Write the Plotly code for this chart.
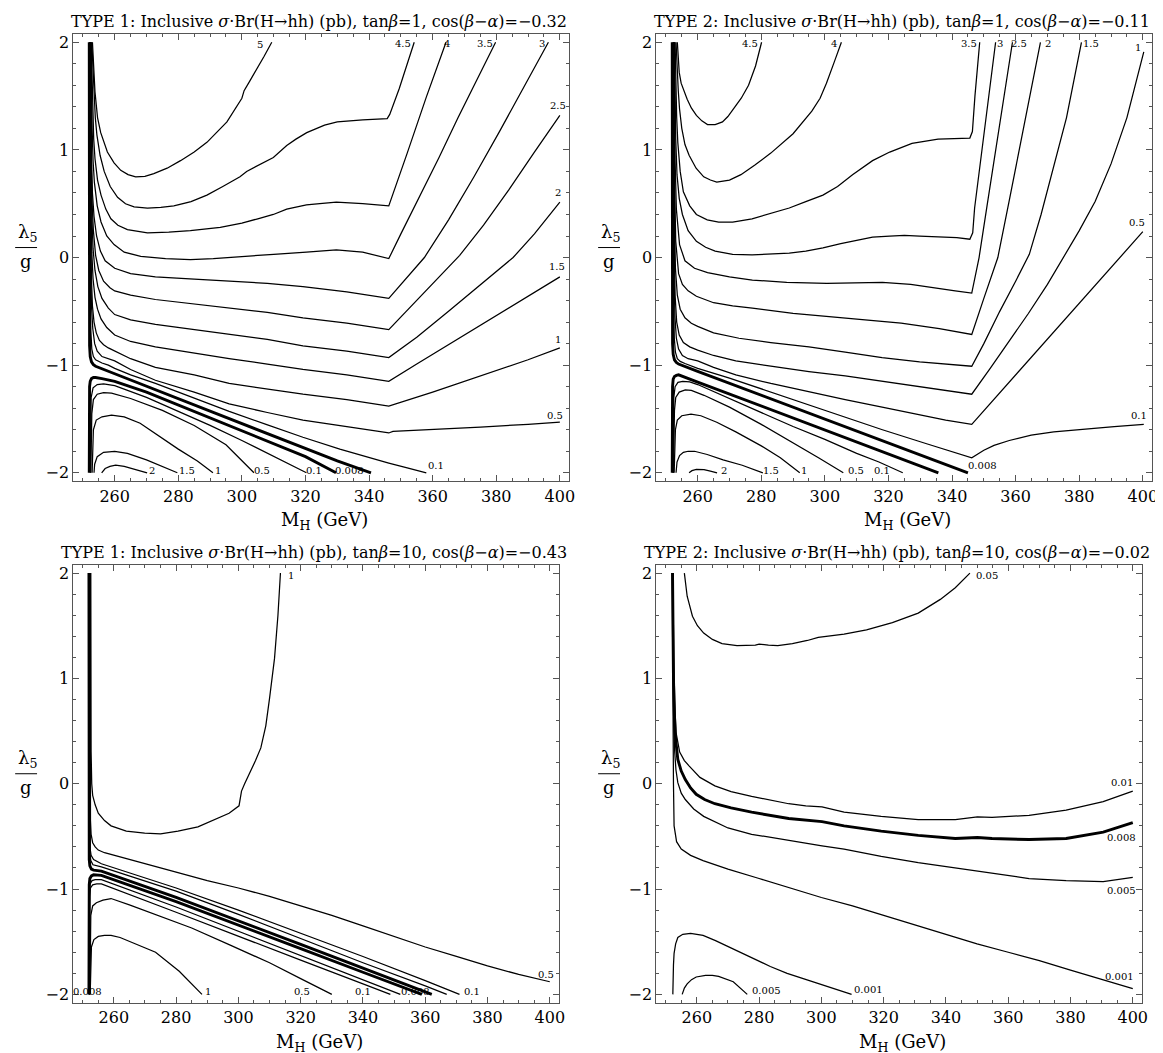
import plotly.graph_objects as go

W, H = 1163, 1053
FONT = "DejaVu Serif"
FRAME = "#555555"

# ---------------- Panel 1: TYPE 1, tanb=1, cos=-0.32 ----------------
P1_5 = ([253.0, 253.4, 253.8, 254.6, 255.6, 257.7, 259.8, 261.9, 264.2, 266.6, 269.5, 272.3, 276.5, 280.7, 285.0, 289.0, 295.3, 300.0, 300.7, 302.7, 304.7, 307.0, 309.4],
        [2.0, 1.8, 1.54, 1.3, 1.16, 0.98, 0.88, 0.81, 0.77, 0.75, 0.755, 0.78, 0.83, 0.90, 0.98, 1.07, 1.26, 1.48, 1.55, 1.65, 1.75, 1.87, 2.0])
P1_45 = ([252.8, 253.1, 253.4, 253.9, 254.4, 255.4, 256.7, 258.6, 260.9, 263.4, 266.1, 270.3, 274.5, 278.6, 284.0, 289.0, 294.0, 299.4, 301.5, 305.5, 309.9, 314.1, 317.0, 320.4, 326.0, 330.0, 338.0, 345.7, 346.5, 349.5, 352.0, 354.2],
         [2.0, 1.8, 1.54, 1.3, 1.14, 0.95, 0.80, 0.66, 0.56, 0.5, 0.47, 0.46, 0.465, 0.48, 0.52, 0.58, 0.66, 0.75, 0.80, 0.86, 0.93, 1.04, 1.1, 1.16, 1.23, 1.26, 1.28, 1.29, 1.33, 1.57, 1.8, 2.0])
P1_4 = ([252.6, 252.8, 253.0, 253.4, 253.8, 254.6, 255.7, 257.2, 258.8, 261.0, 264.0, 270.3, 277.0, 283.8, 293.2, 300.0, 305.0, 309.9, 314.1, 320.3, 324.5, 329.7, 338.0, 346.2, 352.0, 358.0, 364.2],
        [2.0, 1.7, 1.38, 1.1, 0.92, 0.72, 0.58, 0.45, 0.36, 0.3, 0.26, 0.23, 0.235, 0.25, 0.28, 0.32, 0.36, 0.40, 0.45, 0.49, 0.50, 0.515, 0.50, 0.48, 0.97, 1.49, 2.0])
P1_35 = ([252.5, 252.7, 252.9, 253.2, 253.6, 254.5, 255.7, 257.5, 259.8, 263.0, 268.2, 276.0, 283.8, 291.0, 299.4, 310.0, 320.3, 329.7, 338.0, 346.2, 350.0, 356.0, 362.0, 368.0, 374.0, 379.8],
         [2.0, 1.5, 1.2, 0.9, 0.7, 0.48, 0.33, 0.2, 0.12, 0.05, 0.01, -0.01, -0.02, -0.01, 0.01, 0.03, 0.05, 0.07, 0.05, -0.01, 0.22, 0.57, 0.93, 1.3, 1.66, 2.0])
P1_3 = ([252.45, 252.55, 252.7, 253.0, 253.5, 254.3, 255.5, 257.0, 260.0, 265.0, 272.8, 285.0, 296.0, 308.0, 319.2, 333.0, 346.2, 351.0, 357.4, 365.0, 373.0, 381.0, 389.0, 396.4],
        [2.0, 1.4, 0.95, 0.6, 0.38, 0.2, 0.06, -0.03, -0.1, -0.15, -0.18, -0.2, -0.22, -0.24, -0.27, -0.32, -0.38, -0.22, 0.0, 0.35, 0.75, 1.17, 1.6, 2.0])
P1_25 = ([252.4, 252.5, 252.65, 252.9, 253.3, 254.0, 255.0, 256.5, 258.5, 260.0, 265.0, 272.8, 285.0, 296.0, 308.0, 319.2, 333.0, 346.2, 352.0, 358.0, 364.0, 368.5, 376.0, 384.0, 392.0, 400.0],
         [2.0, 1.3, 0.85, 0.5, 0.25, 0.02, -0.12, -0.22, -0.28, -0.31, -0.35, -0.39, -0.43, -0.47, -0.51, -0.56, -0.61, -0.67, -0.49, -0.3, -0.11, 0.02, 0.3, 0.63, 0.98, 1.32])
P1_2 = ([252.35, 252.45, 252.6, 252.85, 253.2, 253.8, 254.7, 256.0, 258.0, 260.0, 265.0, 272.8, 285.0, 296.0, 308.0, 319.2, 333.0, 346.2, 355.0, 365.0, 375.0, 385.3, 392.0, 400.0],
        [2.0, 1.2, 0.7, 0.35, 0.08, -0.12, -0.27, -0.38, -0.47, -0.53, -0.58, -0.62, -0.67, -0.71, -0.76, -0.82, -0.87, -0.93, -0.74, -0.5, -0.25, 0.0, 0.22, 0.515])
P1_15 = ([252.3, 252.4, 252.55, 252.8, 253.2, 253.8, 254.6, 255.7, 257.5, 260.0, 265.0, 272.8, 285.0, 296.0, 308.0, 319.2, 333.0, 346.2, 355.0, 365.0, 375.0, 385.0, 392.0, 400.0],
         [2.0, 1.0, 0.45, 0.05, -0.2, -0.37, -0.48, -0.57, -0.65, -0.72, -0.78, -0.83, -0.89, -0.94, -0.99, -1.04, -1.09, -1.15, -0.99, -0.81, -0.63, -0.45, -0.32, -0.18])
P1_1 = ([252.25, 252.35, 252.5, 252.7, 253.0, 253.5, 254.2, 255.2, 256.5, 258.0, 260.0, 265.0, 272.8, 285.0, 296.0, 308.0, 319.2, 333.0, 346.2, 360.0, 375.0, 390.0, 400.0],
        [2.0, 0.8, 0.2, -0.2, -0.45, -0.6, -0.7, -0.77, -0.81, -0.84, -0.87, -0.94, -1.02, -1.09, -1.17, -1.22, -1.27, -1.32, -1.38, -1.25, -1.1, -0.95, -0.84])
P1_05 = ([252.2, 252.3, 252.45, 252.7, 253.1, 253.7, 254.5, 256.0, 258.0, 260.0, 265.0, 272.8, 285.0, 296.0, 308.0, 319.2, 333.0, 346.2, 347.5, 360.0, 375.0, 390.0, 400.0],
         [2.0, 0.5, -0.1, -0.45, -0.66, -0.8, -0.87, -0.92, -0.94, -0.96, -1.04, -1.14, -1.25, -1.36, -1.44, -1.51, -1.57, -1.63, -1.615, -1.6, -1.575, -1.55, -1.53])
P1_01 = ([252.15, 252.2, 252.3, 252.5, 252.8, 253.3, 254.0, 256.0, 258.0, 260.0, 265.0, 272.8, 284.4, 296.0, 307.6, 319.2, 330.8, 340.0, 346.2, 352.0, 358.0],
         [2.0, 0.5, -0.3, -0.68, -0.85, -0.92, -0.95, -0.98, -1.0, -1.03, -1.09, -1.17, -1.3, -1.43, -1.55, -1.67, -1.78, -1.86, -1.91, -1.955, -2.0])
P1_T_UP = ([252.0, 252.0, 252.1, 252.3, 252.7, 253.3, 254.0, 260.0, 270.0, 280.0, 290.0, 296.0, 300.0, 310.0, 320.0, 330.0, 340.6],
           [2.0, -0.6, -0.82, -0.92, -0.97, -0.995, -1.01, -1.08, -1.195, -1.31, -1.425, -1.495, -1.54, -1.66, -1.775, -1.89, -2.0])
P1_T_LO = ([252.0, 252.0, 252.1, 252.3, 252.7, 253.3, 254.0, 256.0, 260.0, 270.0, 280.0, 290.0, 300.0, 310.0, 320.0, 329.6],
           [-2.0, -1.35, -1.2, -1.15, -1.125, -1.115, -1.115, -1.125, -1.15, -1.25, -1.37, -1.49, -1.61, -1.73, -1.85, -2.0])
P1_A01 = ([252.3, 252.4, 252.6, 253.2, 254.5, 256.5, 260.0, 270.0, 280.0, 290.0, 300.0, 310.0, 320.3],
          [-2.0, -1.5, -1.3, -1.21, -1.18, -1.175, -1.19, -1.3, -1.43, -1.56, -1.70, -1.85, -2.0])
P1_A05 = ([252.5, 252.6, 252.8, 253.3, 254.5, 256.5, 259.0, 265.0, 275.0, 285.0, 295.0, 303.8],
          [-2.0, -1.7, -1.45, -1.32, -1.27, -1.255, -1.26, -1.31, -1.42, -1.56, -1.74, -2.0])
P1_A1 = ([252.9, 253.0, 253.3, 254.2, 256.0, 259.0, 263.0, 268.0, 272.8, 280.0, 286.0, 290.9],
         [-2.0, -1.8, -1.6, -1.51, -1.48, -1.465, -1.48, -1.54, -1.635, -1.78, -1.89, -2.0])
P1_A15 = ([253.5, 253.7, 254.5, 256.5, 260.0, 264.0, 270.0, 275.0, 279.7],
          [-2.0, -1.92, -1.85, -1.81, -1.80, -1.82, -1.88, -1.94, -2.0])
P1_A2 = ([255.9, 257.0, 258.5, 260.3, 263.0, 267.0, 270.2],
         [-2.0, -1.96, -1.94, -1.93, -1.94, -1.97, -2.0])
P1_LABELS = [("5", 305.7, 1.98), ("4.5", 350.6, 1.99), ("4", 364.6, 1.99), ("3.5", 376.4, 1.99),
             ("3", 394.4, 1.99), ("2.5", 399.3, 1.41), ("2", 399.5, 0.6), ("1.5", 399.0, -0.08),
             ("1", 399.5, -0.76), ("0.5", 398.5, -1.47), ("0.1", 361.0, -1.93),
             ("2", 271.8, -1.975), ("1.5", 282.6, -1.975), ("1", 292.4, -1.975), ("0.5", 306.4, -1.975),
             ("0.1", 322.6, -1.975), ("0.008", 333.7, -1.975)]

# ---------------- Panel 2: TYPE 2, tanb=1, cos=-0.11 ----------------
P2_45 = ([253.6, 253.8, 254.2, 254.8, 255.7, 256.7, 258.0, 259.6, 261.3, 263.1, 265.5, 267.8, 269.5, 271.3, 273.7, 276.0, 278.2, 280.1],
         [2.0, 1.85, 1.72, 1.62, 1.54, 1.47, 1.39, 1.32, 1.27, 1.235, 1.235, 1.26, 1.31, 1.38, 1.48, 1.6, 1.78, 2.0])
P2_4 = ([253.2, 253.5, 253.9, 254.3, 255.0, 256.0, 257.3, 259.5, 261.9, 264.0, 266.0, 270.0, 273.6, 278.0, 283.0, 290.0, 295.9, 298.5, 300.5, 303.0, 305.2],
        [2.0, 1.75, 1.55, 1.38, 1.2, 1.05, 0.95, 0.83, 0.75, 0.72, 0.70, 0.72, 0.77, 0.86, 0.97, 1.15, 1.36, 1.48, 1.62, 1.82, 2.0])
P2_35 = ([252.9, 253.1, 253.4, 253.75, 254.5, 255.5, 257.5, 259.6, 263.0, 266.6, 271.0, 277.1, 283.0, 288.8, 294.0, 299.4, 304.0, 308.7, 315.0, 320.4, 327.4, 335.6, 345.6, 346.4, 347.2, 348.0, 348.7],
         [2.0, 1.65, 1.3, 1.07, 0.8, 0.61, 0.48, 0.40, 0.35, 0.33, 0.33, 0.36, 0.41, 0.46, 0.52, 0.58, 0.66, 0.77, 0.9, 0.98, 1.06, 1.1, 1.11, 1.17, 1.5, 1.75, 2.0])
P2_3 = ([252.7, 252.85, 253.1, 253.5, 254.2, 255.2, 257.0, 259.6, 262.5, 265.5, 271.0, 277.1, 283.0, 288.8, 294.0, 299.4, 305.0, 309.9, 315.0, 320.4, 325.0, 329.8, 336.0, 341.5, 345.6, 346.5, 347.1, 349.7, 352.0, 353.7],
        [2.0, 1.55, 1.1, 0.77, 0.55, 0.40, 0.25, 0.15, 0.095, 0.06, 0.03, 0.025, 0.03, 0.04, 0.06, 0.09, 0.13, 0.16, 0.19, 0.2, 0.205, 0.2, 0.19, 0.185, 0.17, 0.23, 0.46, 1.07, 1.6, 2.0])
P2_25 = ([252.6, 252.7, 252.9, 253.3, 254.3, 256.0, 259.0, 263.1, 270.0, 277.2, 288.0, 300.6, 310.0, 318.1, 327.0, 335.7, 341.0, 346.2, 348.5, 351.0, 355.0, 359.0],
         [2.0, 1.4, 0.9, 0.45, 0.12, -0.03, -0.1, -0.14, -0.18, -0.21, -0.23, -0.24, -0.235, -0.23, -0.25, -0.29, -0.31, -0.33, 0.0, 0.48, 1.24, 2.0])
P2_2 = ([252.5, 252.6, 252.75, 253.1, 254.0, 255.2, 257.0, 259.6, 265.0, 271.0, 277.2, 290.0, 300.6, 312.0, 324.0, 336.0, 346.2, 350.0, 354.4, 358.0, 363.0, 367.8],
        [2.0, 1.2, 0.7, 0.15, -0.15, -0.25, -0.31, -0.36, -0.42, -0.45, -0.47, -0.52, -0.55, -0.58, -0.61, -0.66, -0.715, -0.38, 0.0, 0.53, 1.28, 2.0])
P2_15 = ([252.45, 252.55, 252.7, 253.0, 253.6, 254.5, 256.0, 258.0, 260.0, 265.0, 273.0, 283.0, 295.0, 306.4, 318.0, 329.8, 338.0, 346.2, 350.0, 355.0, 360.0, 364.3, 368.0, 372.0, 376.0, 380.7],
         [2.0, 1.0, 0.4, -0.1, -0.35, -0.48, -0.56, -0.61, -0.64, -0.7, -0.75, -0.79, -0.83, -0.88, -0.93, -0.97, -0.99, -1.01, -0.8, -0.5, -0.22, 0.03, 0.4, 0.85, 1.3, 2.0])
P2_1 = ([252.4, 252.5, 252.65, 252.9, 253.4, 254.2, 255.5, 257.5, 260.0, 265.0, 272.0, 283.0, 295.0, 306.4, 318.0, 329.8, 338.0, 346.2, 352.0, 358.0, 364.0, 370.0, 375.0, 380.0, 385.0, 390.0, 395.0, 400.3],
        [2.0, 0.8, 0.1, -0.35, -0.6, -0.72, -0.79, -0.83, -0.86, -0.91, -0.96, -1.01, -1.06, -1.1, -1.15, -1.2, -1.24, -1.27, -1.03, -0.78, -0.52, -0.25, 0.0, 0.25, 0.52, 0.87, 1.3, 1.91])
P2_05 = ([252.35, 252.45, 252.6, 252.85, 253.3, 254.0, 255.2, 257.0, 260.0, 265.0, 272.0, 283.0, 295.0, 306.4, 318.0, 329.8, 338.0, 346.2, 360.0, 375.0, 391.8, 400.0],
         [2.0, 0.6, -0.2, -0.55, -0.75, -0.85, -0.91, -0.94, -0.96, -1.02, -1.09, -1.17, -1.25, -1.32, -1.39, -1.46, -1.51, -1.55, -1.09, -0.59, -0.03, 0.24])
P2_01 = ([252.3, 252.35, 252.45, 252.65, 253.0, 253.6, 254.5, 256.0, 260.0, 270.0, 280.0, 294.7, 306.0, 318.1, 332.0, 346.2, 350.0, 353.2, 358.0, 364.9, 372.0, 382.4, 391.0, 400.3],
         [2.0, 0.5, -0.4, -0.75, -0.88, -0.94, -0.965, -0.985, -1.03, -1.12, -1.22, -1.37, -1.48, -1.6, -1.73, -1.86, -1.79, -1.745, -1.70, -1.65, -1.62, -1.59, -1.57, -1.55])
P2_T_UP = ([252.0, 252.0, 252.1, 252.3, 252.7, 253.3, 254.0, 260.0, 270.0, 280.0, 290.0, 300.0, 310.0, 320.0, 330.0, 345.0],
           [2.0, -0.55, -0.8, -0.9, -0.95, -0.975, -0.99, -1.057, -1.168, -1.279, -1.39, -1.5, -1.61, -1.72, -1.83, -2.0])
P2_T_LO = ([252.0, 252.0, 252.1, 252.3, 252.7, 253.3, 254.0, 260.0, 270.0, 280.0, 290.0, 300.0, 310.0, 320.0, 335.7],
           [-2.0, -1.4, -1.2, -1.13, -1.105, -1.095, -1.09, -1.157, -1.268, -1.379, -1.49, -1.6, -1.71, -1.82, -2.0])
P2_A01 = ([252.2, 252.3, 252.5, 252.9, 253.8, 255.3, 257.5, 260.0, 270.0, 280.0, 290.0, 300.0, 310.0, 317.0, 324.5],
          [-2.0, -1.55, -1.3, -1.2, -1.16, -1.15, -1.155, -1.18, -1.31, -1.44, -1.57, -1.69, -1.82, -1.9, -2.0])
P2_A05 = ([252.4, 252.5, 252.7, 253.1, 254.2, 256.1, 258.0, 262.0, 270.0, 280.0, 290.0, 298.0, 305.8],
          [-2.0, -1.65, -1.42, -1.3, -1.25, -1.23, -1.235, -1.28, -1.39, -1.55, -1.72, -1.86, -2.0])
P2_A1 = ([252.6, 252.75, 253.0, 253.6, 255.0, 257.9, 261.0, 266.0, 272.0, 280.0, 286.0, 292.1],
         [-2.0, -1.75, -1.6, -1.51, -1.47, -1.455, -1.47, -1.53, -1.62, -1.75, -1.86, -2.0])
P2_A15 = ([253.2, 253.5, 254.3, 255.5, 257.0, 259.0, 263.0, 268.0, 274.0, 280.5],
          [-2.0, -1.9, -1.84, -1.81, -1.80, -1.80, -1.83, -1.88, -1.93, -2.0])
P2_A2 = ([257.3, 258.2, 259.6, 262.0, 264.0, 266.1],
         [-2.0, -1.98, -1.968, -1.97, -1.985, -2.0])
P2_LABELS = [("4.5", 276.6, 1.99), ("4", 302.9, 1.99), ("3.5", 345.4, 1.99), ("3", 355.2, 1.99),
             ("2.5", 361.0, 1.99), ("2", 370.2, 1.99), ("1.5", 383.7, 1.99), ("1", 398.6, 1.95),
             ("0.5", 398.2, 0.33), ("0.1", 398.8, -1.47), ("0.008", 349.7, -1.93),
             ("2", 268.4, -1.975), ("1.5", 283.0, -1.975), ("1", 293.5, -1.975),
             ("0.5", 309.9, -1.975), ("0.1", 318.1, -1.975)]

# ---------------- Panel 3: TYPE 1, tanb=10, cos=-0.43 ----------------
P3_1 = ([252.6, 252.6, 252.7, 252.9, 253.2, 254.0, 255.0, 257.0, 259.1, 264.0, 269.9, 275.0, 280.6, 287.0, 292.5, 297.0, 300.2, 300.6, 301.0, 302.0, 304.0, 305.5, 307.2, 308.8, 310.0, 311.6, 312.7, 313.5],
        [2.0, 1.0, 0.3, 0.0, -0.11, -0.2, -0.28, -0.35, -0.40, -0.45, -0.47, -0.475, -0.45, -0.41, -0.34, -0.28, -0.21, -0.12, -0.07, 0.0, 0.12, 0.22, 0.34, 0.55, 0.81, 1.19, 1.6, 2.0])
P3_05 = ([252.4, 252.4, 252.5, 252.7, 253.2, 254.0, 255.0, 257.0, 260.0, 265.0, 270.0, 280.0, 290.0, 300.0, 310.0, 320.0, 330.0, 340.0, 350.0, 360.0, 370.0, 380.0, 390.0, 400.0],
         [2.0, 0.0, -0.35, -0.48, -0.56, -0.6, -0.63, -0.655, -0.68, -0.72, -0.76, -0.84, -0.92, -0.99, -1.07, -1.16, -1.25, -1.35, -1.45, -1.55, -1.64, -1.73, -1.81, -1.88])
P3_B_UP2 = ([252.3, 252.3, 252.4, 252.7, 253.5, 256.0, 280.0, 300.0, 320.0, 340.0, 360.0, 371.0],
            [2.0, -0.5, -0.62, -0.68, -0.72, -0.76, -0.99, -1.20, -1.42, -1.64, -1.87, -2.0])
P3_B_UP1 = ([252.25, 252.25, 252.35, 252.6, 253.3, 256.0, 280.0, 300.0, 320.0, 340.0, 360.0, 366.9],
            [2.0, -0.55, -0.67, -0.73, -0.77, -0.79, -1.02, -1.24, -1.47, -1.70, -1.92, -2.0])
P3_T_UP = ([252.0, 252.0, 252.1, 252.3, 252.8, 253.5, 256.0, 280.0, 300.0, 320.0, 340.0, 362.1],
           [2.0, -0.6, -0.72, -0.78, -0.81, -0.82, -0.83, -1.08, -1.30, -1.525, -1.75, -2.0])
P3_T_LO = ([252.0, 252.0, 252.1, 252.3, 252.8, 253.5, 256.0, 280.0, 300.0, 320.0, 340.0, 358.9],
           [-2.0, -1.1, -0.96, -0.9, -0.875, -0.865, -0.87, -1.12, -1.34, -1.565, -1.79, -2.0])
P3_B_LO1 = ([252.1, 252.1, 252.2, 252.4, 253.0, 254.0, 256.0, 280.0, 300.0, 320.0, 340.0, 352.0],
            [-2.0, -1.2, -1.02, -0.95, -0.92, -0.91, -0.91, -1.17, -1.40, -1.63, -1.86, -2.0])
P3_B_LO2 = ([252.15, 252.15, 252.25, 252.5, 253.2, 254.5, 256.0, 280.0, 300.0, 320.0, 340.0, 348.8],
            [-2.0, -1.25, -1.07, -0.99, -0.96, -0.95, -0.95, -1.22, -1.45, -1.675, -1.90, -2.0])
P3_A05 = ([252.3, 252.4, 252.6, 253.2, 254.4, 256.5, 259.1, 265.0, 273.4, 285.0, 297.2, 310.0, 320.0, 330.0],
          [-2.0, -1.5, -1.25, -1.16, -1.13, -1.105, -1.09, -1.15, -1.24, -1.37, -1.53, -1.7, -1.85, -2.0])
P3_A1 = ([252.4, 252.5, 252.8, 253.6, 255.0, 257.0, 259.1, 262.0, 266.0, 273.4, 281.0, 288.3],
         [-2.0, -1.75, -1.55, -1.48, -1.45, -1.44, -1.44, -1.46, -1.51, -1.60, -1.78, -2.0])
P3_LABELS = [("1", 316.9, 1.98), ("0.5", 398.8, -1.81), ("0.008", 251.6, -1.975),
             ("1", 290.3, -1.975), ("0.5", 320.4, -1.975), ("0.1", 340.0, -1.975),
             ("0.008", 356.8, -1.975), ("0.1", 374.9, -1.975)]

# ---------------- Panel 4: TYPE 2, tanb=10, cos=-0.02 ----------------
P4_005 = ([256.0, 256.9, 258.6, 260.2, 262.2, 265.0, 268.1, 272.9, 278.8, 280.0, 283.0, 286.0, 290.7, 295.5, 299.0, 300.2, 307.3, 314.5, 322.8, 331.1, 338.2, 343.0, 347.7],
          [2.0, 1.78, 1.59, 1.5, 1.43, 1.37, 1.33, 1.31, 1.315, 1.325, 1.315, 1.31, 1.33, 1.36, 1.39, 1.395, 1.42, 1.46, 1.53, 1.62, 1.75, 1.86, 2.0])
P4_001 = ([252.3, 252.4, 252.6, 252.9, 253.3, 254.5, 256.0, 257.5, 261.0, 265.8, 271.0, 277.6, 283.0, 289.5, 295.0, 300.2, 307.3, 319.2, 331.1, 343.0, 350.1, 354.8, 366.7, 378.6, 390.5, 400.0],
          [2.0, 1.6, 1.2, 0.8, 0.49, 0.30, 0.22, 0.17, 0.06, -0.02, -0.075, -0.12, -0.155, -0.19, -0.21, -0.22, -0.27, -0.31, -0.34, -0.34, -0.315, -0.32, -0.30, -0.25, -0.17, -0.07])
P4_0008 = ([252.2, 252.3, 252.5, 252.8, 253.2, 253.9, 255.0, 256.3, 258.0, 259.8, 262.5, 265.8, 271.0, 277.6, 289.5, 300.2, 307.3, 319.2, 331.1, 343.0, 350.1, 354.8, 366.7, 378.6, 390.5, 400.0],
           [2.0, 1.5, 1.0, 0.65, 0.42, 0.23, 0.12, 0.04, -0.04, -0.10, -0.15, -0.19, -0.23, -0.27, -0.33, -0.36, -0.40, -0.45, -0.49, -0.52, -0.51, -0.52, -0.53, -0.52, -0.46, -0.37])
P4_0005 = ([252.15, 252.25, 252.4, 252.6, 252.9, 253.3, 253.9, 255.0, 256.3, 259.0, 262.2, 270.0, 277.6, 289.5, 300.2, 307.3, 319.2, 331.1, 343.0, 350.1, 354.8, 366.7, 378.6, 390.5, 400.0],
           [2.0, 1.4, 0.9, 0.55, 0.3, 0.13, 0.01, -0.09, -0.15, -0.24, -0.31, -0.42, -0.48, -0.54, -0.59, -0.62, -0.69, -0.75, -0.80, -0.83, -0.85, -0.90, -0.92, -0.93, -0.89])
P4_0001 = ([252.1, 252.2, 252.3, 252.4, 252.5, 252.7, 253.1, 253.5, 255.0, 258.0, 262.0, 270.0, 280.0, 290.0, 300.0, 310.0, 320.0, 330.0, 340.0, 350.0, 360.0, 370.0, 380.0, 390.0, 400.0],
           [2.0, 1.2, 0.8, 0.5, 0.0, -0.4, -0.5, -0.55, -0.62, -0.68, -0.73, -0.81, -0.9, -0.99, -1.08, -1.16, -1.25, -1.34, -1.43, -1.52, -1.6, -1.68, -1.77, -1.86, -1.945])
P4_A0001 = ([252.3, 252.35, 252.5, 252.7, 253.2, 253.9, 255.5, 258.0, 262.0, 266.0, 271.7, 277.0, 283.6, 289.0, 295.5, 302.0, 309.7],
            [-2.0, -1.85, -1.72, -1.61, -1.52, -1.46, -1.43, -1.42, -1.44, -1.49, -1.57, -1.65, -1.735, -1.8, -1.865, -1.93, -2.0])
P4_A0005 = ([255.3, 256.0, 256.9, 258.3, 259.8, 262.8, 265.0, 267.0, 271.7, 274.0, 276.2],
            [-2.0, -1.94, -1.90, -1.86, -1.835, -1.82, -1.82, -1.83, -1.88, -1.94, -2.0])
P4_LABELS = [("0.05", 353.2, 1.98), ("0.01", 396.4, 0.01), ("0.008", 396.4, -0.51),
             ("0.005", 396.4, -1.01), ("0.001", 395.8, -1.83), ("0.005", 282.4, -1.965),
             ("0.001", 315.0, -1.955)]

TITLES = ["TYPE 1: Inclusive <i>σ</i>·Br(H→hh) (pb), tan<i>β</i>=1, cos(<i>β</i>−<i>α</i>)=−0.32",
          "TYPE 2: Inclusive <i>σ</i>·Br(H→hh) (pb), tan<i>β</i>=1, cos(<i>β</i>−<i>α</i>)=−0.11",
          "TYPE 1: Inclusive <i>σ</i>·Br(H→hh) (pb), tan<i>β</i>=10, cos(<i>β</i>−<i>α</i>)=−0.43",
          "TYPE 2: Inclusive <i>σ</i>·Br(H→hh) (pb), tan<i>β</i>=10, cos(<i>β</i>−<i>α</i>)=−0.02"]
X_TICKS = [260, 280, 300, 320, 340, 360, 380, 400]
Y_TICKS = [-2, -1, 0, 1, 2]
X_RANGE = [247, 403]
Y_RANGE = [-2.08, 2.08]

PANELS = [
    dict(thin=[P1_5, P1_45, P1_4, P1_35, P1_3, P1_25, P1_2, P1_15, P1_1, P1_05, P1_01,
               P1_A01, P1_A05, P1_A1, P1_A15, P1_A2],
         thick=[P1_T_UP, P1_T_LO], labels=P1_LABELS),
    dict(thin=[P2_45, P2_4, P2_35, P2_3, P2_25, P2_2, P2_15, P2_1, P2_05, P2_01,
               P2_A01, P2_A05, P2_A1, P2_A15, P2_A2],
         thick=[P2_T_UP, P2_T_LO], labels=P2_LABELS),
    dict(thin=[P3_1, P3_05, P3_B_UP2, P3_B_UP1, P3_B_LO1, P3_B_LO2, P3_A05, P3_A1],
         thick=[P3_T_UP, P3_T_LO], labels=P3_LABELS),
    dict(thin=[P4_005, P4_001, P4_0005, P4_0001, P4_A0001, P4_A0005],
         thick=[P4_0008], labels=P4_LABELS),
]

# frame boxes in pixels: (left, right, top, bottom)
BOXES = [(65.7, 564.3, 24.7, 473.3), (651.7, 1150.3, 24.7, 473.3),
         (65.7, 554.0, 556.7, 995.7), (651.7, 1140.0, 556.7, 995.7)]


def px(x):
    return x / W


def py(y):
    return 1 - y / H


fig = go.Figure()
annotations = []
shapes = []
layout = dict(width=W, height=H, margin=dict(l=0, r=0, t=0, b=0),
              paper_bgcolor="white", plot_bgcolor="white", showlegend=False,
              font=dict(family=FONT, color="black"))

for i, (panel, box) in enumerate(zip(PANELS, BOXES), start=1):
    xa = "x" if i == 1 else f"x{i}"
    ya = "y" if i == 1 else f"y{i}"
    l, r, t, b = box
    layout["xaxis" if i == 1 else f"xaxis{i}"] = dict(
        domain=[px(l), px(r)], anchor=ya, range=X_RANGE, tickvals=X_TICKS,
        ticks="inside", ticklen=6, tickwidth=1, tickcolor=FRAME,
        minor=dict(ticks="inside", ticklen=3, tickwidth=1, dtick=5, tick0=0, tickcolor=FRAME, showgrid=False),
        showline=True, linecolor=FRAME, linewidth=1, mirror="allticks",
        showgrid=False, zeroline=False, fixedrange=True,
        tickfont=dict(family=FONT, size=16, color="black"))
    layout["yaxis" if i == 1 else f"yaxis{i}"] = dict(
        domain=[py(b), py(t)], anchor=xa, range=Y_RANGE, tickvals=Y_TICKS,
        ticks="inside", ticklen=6, tickwidth=1, tickcolor=FRAME,
        minor=dict(ticks="inside", ticklen=3, tickwidth=1, dtick=0.2, tick0=0, tickcolor=FRAME, showgrid=False),
        showline=True, linecolor=FRAME, linewidth=1, mirror="allticks",
        showgrid=False, zeroline=False, fixedrange=True,
        tickfont=dict(family=FONT, size=16, color="black"))

    for m, lam in panel["thin"]:
        fig.add_trace(go.Scatter(x=m, y=lam, mode="lines", xaxis=xa, yaxis=ya,
                                 line=dict(color="black", width=1.25), hoverinfo="skip"))
    for m, lam in panel["thick"]:
        fig.add_trace(go.Scatter(x=m, y=lam, mode="lines", xaxis=xa, yaxis=ya,
                                 line=dict(color="black", width=2.9), hoverinfo="skip"))
    for text, m, lam in panel["labels"]:
        annotations.append(dict(text=text, x=m, y=lam, xref=xa, yref=ya, showarrow=False,
                                xanchor="center", yanchor="middle",
                                font=dict(family=FONT, size=10, color="black")))

    cx = (l + r) / 2
    # title
    annotations.append(dict(text=TITLES[i - 1], x=px(cx - 2), y=py(t - 12.5), xref="paper", yref="paper",
                            showarrow=False, xanchor="center", yanchor="middle",
                            font=dict(family=FONT, size=16, color="black")))
    # x label
    annotations.append(dict(text="M<sub>H</sub> (GeV)", x=px(cx + 3), y=py(b + 40), xref="paper", yref="paper",
                            showarrow=False, xanchor="center", yanchor="middle",
                            font=dict(family=FONT, size=18, color="black")))
    # y label: lambda5 / g as a fraction
    mid = (t + b) / 2 - 10
    lx = l - 47.5
    annotations.append(dict(text="λ<sub>5</sub>", x=px(lx + 1), y=py(mid - 1), xref="paper", yref="paper",
                            showarrow=False, xanchor="center", yanchor="bottom",
                            font=dict(family=FONT, size=18, color="black")))
    annotations.append(dict(text="g", x=px(lx), y=py(mid + 1), xref="paper", yref="paper",
                            showarrow=False, xanchor="center", yanchor="top",
                            font=dict(family=FONT, size=18, color="black")))
    shapes.append(dict(type="line", xref="paper", yref="paper", x0=px(lx - 11), x1=px(lx + 11),
                       y0=py(mid), y1=py(mid), line=dict(color="black", width=1)))

layout["annotations"] = annotations
layout["shapes"] = shapes
fig.update_layout(**layout)
fig.write_html("out.html")
